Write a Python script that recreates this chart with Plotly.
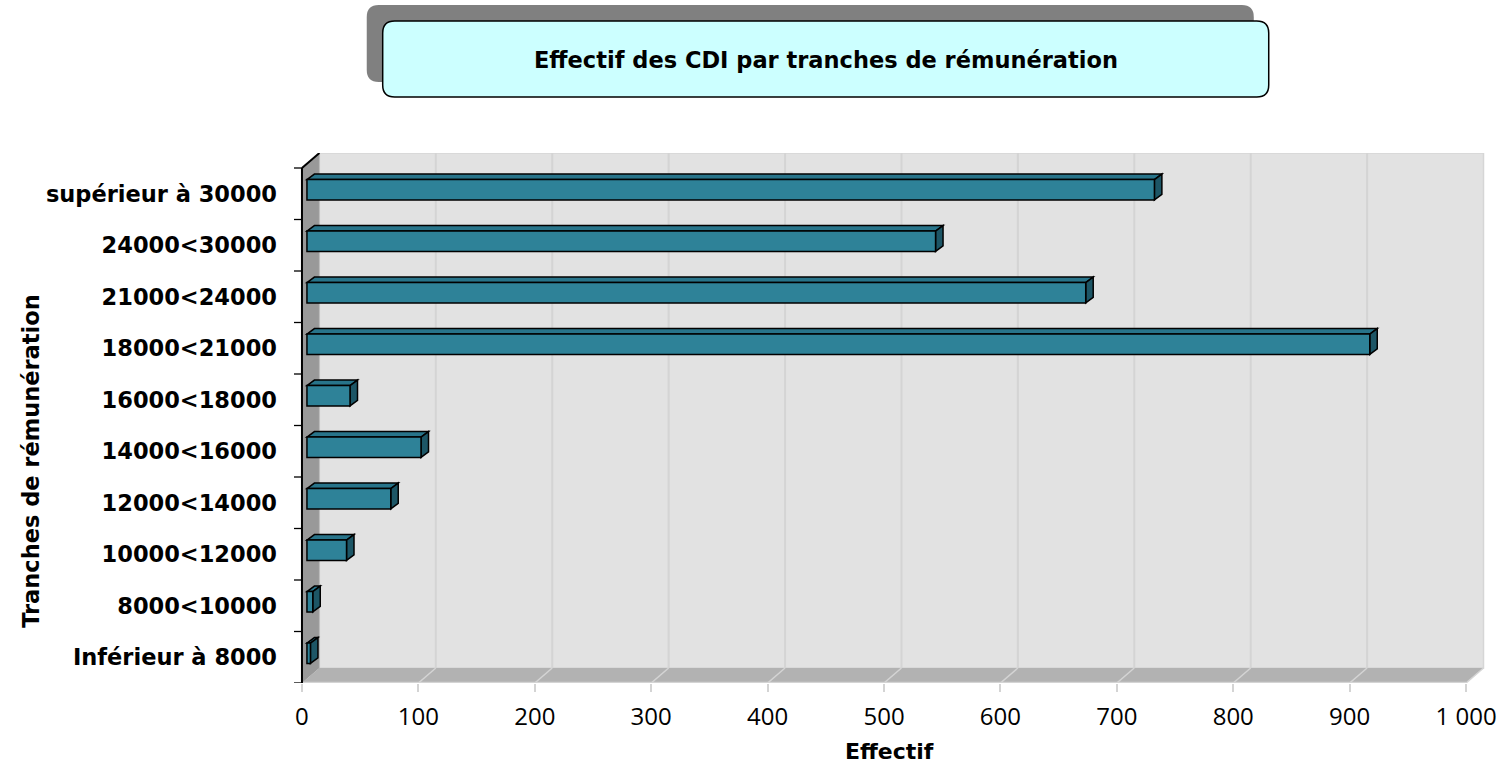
import plotly.graph_objects as go

# ---------------- data ----------------
categories = ["Inférieur à 8000", "8000<10000", "10000<12000", "12000<14000",
              "14000<16000", "16000<18000", "18000<21000", "21000<24000",
              "24000<30000", "supérieur à 30000"]
effectifs = [3, 5, 34, 72, 98, 37, 913, 669, 540, 728]
x_tick_values = [0, 100, 200, 300, 400, 500, 600, 700, 800, 900, 1000]
x_tick_labels = ["0", "100", "200", "300", "400", "500", "600", "700", "800", "900", "1 000"]
chart_title = "Effectif des CDI par tranches de rémunération"
x_title = "Effectif"
y_title = "Tranches de rémunération"

# ---------------- geometry / style ----------------
W, H = 1509, 767
PL, PR, PT, PB = 292, 1490, 153, 683          # plot area in pixels
PX_X = 1.168                                  # pixels per unit of Effectif
PX_Y = 51.5                                   # pixels per category
XMIN = -10 / PX_X
XMAX = XMIN + (PR - PL) / PX_X
YMIN = -0.5
YMAX = YMIN + (PB - PT) / PX_Y
DEPTH_X = 17.5 / PX_X
DEPTH_Y = 15 / PX_Y
XAXMAX = 1000
BAR_X0 = 5 / PX_X
BAR_SHIFT = 4 / PX_Y
BAR_W = 20.3 / PX_Y
BAR_DX = 7.5 / PX_X
BAR_DY = 5.5 / PX_Y
TICK_LEN = 8 / PX_X

FRONT = "#2e8298"
TOP = "#28748a"
SIDE = "#1d5666"
FONT = "DejaVu Sans"
TICK_FONT = "Open Sans"

ncat = len(categories)
ytop = ncat - 0.5

def px2paper(px, py):
    return (px - PL) / (PR - PL), (PB - py) / (PB - PT)

shapes = []

def poly(points, fill, line_color=None, line_width=0, layer="below", xref="x", yref="y"):
    path = "M " + " L ".join(f"{x},{y}" for x, y in points) + " Z"
    shapes.append(dict(type="path", path=path, xref=xref, yref=yref, layer=layer,
                       fillcolor=fill,
                       line=dict(color=line_color or fill, width=line_width)))

def seg(x0, y0, x1, y1, color, width, layer="below"):
    shapes.append(dict(type="line", x0=x0, y0=y0, x1=x1, y1=y1, xref="x", yref="y",
                       layer=layer, line=dict(color=color, width=width)))

# back wall
poly([(DEPTH_X, YMIN + DEPTH_Y), (XAXMAX + DEPTH_X, YMIN + DEPTH_Y),
      (XAXMAX + DEPTH_X, ytop + DEPTH_Y), (DEPTH_X, ytop + DEPTH_Y)],
     "#e2e2e2", "#d6d6d6", 1.5)
# gridlines on back wall
for v in x_tick_values[1:-1]:
    seg(v + DEPTH_X, YMIN + DEPTH_Y, v + DEPTH_X, ytop + DEPTH_Y, "#d4d4d4", 2)
# floor
poly([(0, YMIN), (XAXMAX, YMIN), (XAXMAX + DEPTH_X, YMIN + DEPTH_Y), (DEPTH_X, YMIN + DEPTH_Y)],
     "#b2b2b2")
for v in x_tick_values[1:]:
    seg(v, YMIN, v + DEPTH_X, YMIN + DEPTH_Y, "#d4d4d4", 1.5)
seg(0, YMIN + 0.01, XAXMAX, YMIN + 0.01, "#d4d4d4", 1.5)
# side wall
poly([(0, YMIN), (0, ytop), (DEPTH_X, ytop + DEPTH_Y), (DEPTH_X, YMIN + DEPTH_Y)],
     "#999999")
seg(DEPTH_X, YMIN + DEPTH_Y, DEPTH_X, ytop + DEPTH_Y, "#bdbdbd", 1)
# front axis line + top edge
seg(0, YMIN, 0, ytop, "#000000", 2)
seg(0, ytop, DEPTH_X, ytop + DEPTH_Y, "#000000", 2)
# category boundary ticks
for k in range(ncat + 1):
    b = k - 0.5
    seg(-TICK_LEN, b, 0, b, "#000000", 1.3)

# 3D faces of the bars
for i, v in enumerate(effectifs):
    yc = i + BAR_SHIFT
    yb, yt = yc - BAR_W / 2, yc + BAR_W / 2
    x0, x1 = BAR_X0, BAR_X0 + v
    poly([(x0, yt), (x0 + BAR_DX, yt + BAR_DY), (x1 + BAR_DX, yt + BAR_DY), (x1, yt)],
         TOP, "#000000", 1.5)
    poly([(x1, yb), (x1 + BAR_DX, yb + BAR_DY), (x1 + BAR_DX, yt + BAR_DY), (x1, yt)],
         SIDE, "#000000", 1.5)

# title box (shadow + box) in paper coordinates
def rounded_rect(px0, py0, px1, py1, r, fill, line_color, line_width):
    def P(px, py):
        x, y = px2paper(px, py)
        return f"{x:.5f},{y:.5f}"
    path = (f"M {P(px0 + r, py0)} L {P(px1 - r, py0)} Q {P(px1, py0)} {P(px1, py0 + r)} "
            f"L {P(px1, py1 - r)} Q {P(px1, py1)} {P(px1 - r, py1)} "
            f"L {P(px0 + r, py1)} Q {P(px0, py1)} {P(px0, py1 - r)} "
            f"L {P(px0, py0 + r)} Q {P(px0, py0)} {P(px0 + r, py0)} Z")
    shapes.append(dict(type="path", path=path, xref="paper", yref="paper", layer="above",
                       fillcolor=fill, line=dict(color=line_color, width=line_width)))

rounded_rect(367, 5, 1257, 82, 12, "#808080", "#808080", 0)
rounded_rect(383, 21, 1272, 97, 12, "#ccffff", "#000000", 1.5)

fig = go.Figure()
fig.add_trace(go.Bar(
    x=effectifs, y=list(range(ncat)), base=BAR_X0, orientation="h",
    width=BAR_W, offset=BAR_SHIFT - BAR_W / 2,
    marker=dict(color=FRONT, line=dict(color="#000000", width=1.5)),
    hoverinfo="x+text", text=categories, textposition="none",
))

annotations = []
tx, ty = px2paper(828, 60)
annotations.append(dict(text=f"<b>{chart_title}</b>", x=tx, y=ty, xref="paper", yref="paper",
                        showarrow=False, xanchor="center", yanchor="middle",
                        font=dict(family=FONT, size=22.5, color="#000000")))
tx, ty = px2paper(891, 751)
annotations.append(dict(text=f"<b>{x_title}</b>", x=tx, y=ty, xref="paper", yref="paper",
                        showarrow=False, xanchor="center", yanchor="middle",
                        font=dict(family=FONT, size=22, color="#000000")))
tx, ty = px2paper(30, 461)
annotations.append(dict(text=f"<b>{y_title}</b>", x=tx, y=ty, xref="paper", yref="paper",
                        showarrow=False, xanchor="center", yanchor="middle", textangle=-90,
                        font=dict(family=FONT, size=22.5, color="#000000")))

fig.update_layout(
    width=W, height=H,
    margin=dict(l=PL, r=W - PR, t=PT, b=H - PB, pad=0),
    paper_bgcolor="#ffffff", plot_bgcolor="#ffffff",
    showlegend=False, shapes=shapes, annotations=annotations,
    xaxis=dict(range=[XMIN, XMAX], tickmode="array", tickvals=x_tick_values,
               ticktext=x_tick_labels, ticks="outside", ticklen=8, tickwidth=1.5,
               tickcolor="#d4d4d4", showgrid=False, zeroline=False, showline=False,
               ticklabelstandoff=4,
               tickfont=dict(family=TICK_FONT, size=24, color="#000000")),
    yaxis=dict(range=[YMIN, YMAX], tickmode="array", tickvals=list(range(ncat)),
               ticktext=[f"<b>{c}</b>" for c in categories], ticks="",
               ticklabelstandoff=14,
               showgrid=False, zeroline=False, showline=False,
               tickfont=dict(family=FONT, size=22.5, color="#000000")),
)

fig.write_html("out.html", config={"displayModeBar": False},
               post_script="document.body.style.margin='0px';document.body.style.overflow='hidden';")
